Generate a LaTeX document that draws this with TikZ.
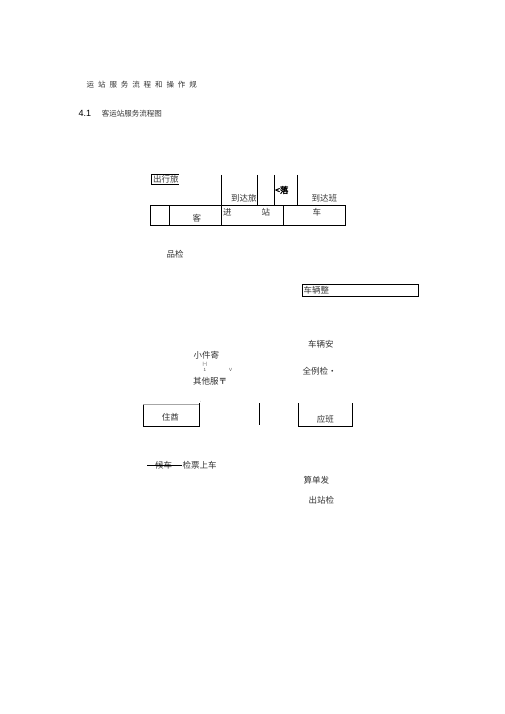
\documentclass[tikz,border=0pt]{standalone}
\usepackage{fontspec}
\newfontfamily\cjk[AutoFakeBold=2.5]{Noto Sans CJK SC}
\setmainfont{Liberation Sans}
\newcommand\rowtop{205.3}
\newcommand\rowbot{225.3}

\begin{document}
\begin{tikzpicture}[
      x=1pt, y=-1pt,
      txt/.style = {
        font=\cjk\fontsize{8.5}{8.5}\selectfont,
        text=black!80,
        inner sep=0pt,
        anchor=west,
      },
      small/.style = {
        txt,
        font=\cjk\fontsize{7.5}{7.5}\selectfont,
      },
      tiny/.style = {
        txt,
        text=black!70,
        font=\fontsize{4.5}{4.5}\selectfont,
      },
      rule/.style = {
        draw=black,
        line width=0.8pt,
      },
    ]
      \useasboundingbox (0,0) rectangle (505,714);
      % heading
      \foreach \c [count=\i from 0] in {运,站,服,务,流,程,和,操,作,规}
        \node[small] (title\i) at (86.5+11.4*\i, 85) {\c};
      \node[txt, font=\fontsize{9}{9}\selectfont, text=black] (num) at (78.3, 113.3) {4.1};
      \node[small] (caption) at (101.7, 113.3) {客运站服务流程图};
      % top table
      \node[txt] (travel) at (152.8, 179.3) {出行旅};
      \draw[rule] (178.5, 174.3) -- (151.7, 174.3) -- (151.7, 184.3) -- (178.5, 184.3);
      \draw[rule] (150.7, \rowtop) rectangle (345.7, \rowbot);
      \draw[rule] (169, \rowtop) -- (169, \rowbot);
      \draw[rule] (221.7, 175) -- (221.7, \rowbot);
      \draw[rule] (283.3, \rowtop) -- (283.3, \rowbot);
      \draw[rule] (257.7, 175) -- (257.7, \rowtop);
      \draw[rule] (274.3, 175) -- (274.3, \rowtop);
      \draw[rule] (297.3, 175) -- (297.3, \rowtop);
      \node[txt] (arrp) at (231, 198) {到达旅};
      \node[txt, text=black, font=\cjk\bfseries\fontsize{8.5}{8.5}\selectfont] (fall) at (275, 190) {<落};
      \node[txt] (arrb) at (311.5, 198) {到达班};
      \node[txt] (guest) at (192.5, 218) {客};
      \node[txt] (enter) at (223, 212.5) {进};
      \node[txt] (stat) at (261.5, 212.5) {站};
      \node[txt] (car) at (312.5, 212.5) {车};
      \node[txt] (check) at (166.5, 254) {品检};
      % vehicle side
      \node[txt] (tidy) at (303.3, 290.5) {车辆整};
      \draw[rule] (302.3, 284.3) rectangle (418.3, 296.7);
      \node[txt] (safe) at (308, 344.3) {车辆安};
      \node[txt] (exam) at (302.5, 371.7) {全例检·};
      % parcel and service
      \node[txt] (parcel) at (193.3, 355) {小件寄};
      \node[tiny] (mark1) at (202.3, 364.5) {|--|};
      \node[tiny] (mark2) at (203.3, 369.8) {1};
      \node[tiny] (mark3) at (228.8, 369.8) {V};
      \node[txt] (other) at (193, 381.7) {其他服\textcolor{black}{〒}};
      % waiting boxes
      \draw[draw=black!35, line width=0.5pt] (143.3, 404.5) -- (199.3, 404.5);
      \draw[rule] (143.3, 404.5) -- (143.3, 426) -- (199.3, 426) -- (199.3, 403);
      \node[tiny, text=black!50] (dot) at (200, 402.5) {'};
      \node[txt] (lodge) at (161.7, 417.3) {住酋};
      \draw[rule] (259.3, 403.3) -- (259.3, 425);
      \draw[rule] (298.3, 403) -- (298.3, 426) -- (352.3, 426) -- (352.3, 403);
      \node[txt] (duty) at (316.7, 419.3) {应班};
      % boarding
      \node[txt] (wait) at (155, 465.3) {候车};
      \draw[line width=0.6pt] (147.3, 465.7) -- (181.7, 465.7);
      \node[txt] (board) at (182.3, 465.3) {检票上车};
      \node[txt] (bill) at (303.3, 480) {算单发};
      \node[txt] (exit) at (308.3, 500) {出站检};

    \end{tikzpicture}
\end{document}
